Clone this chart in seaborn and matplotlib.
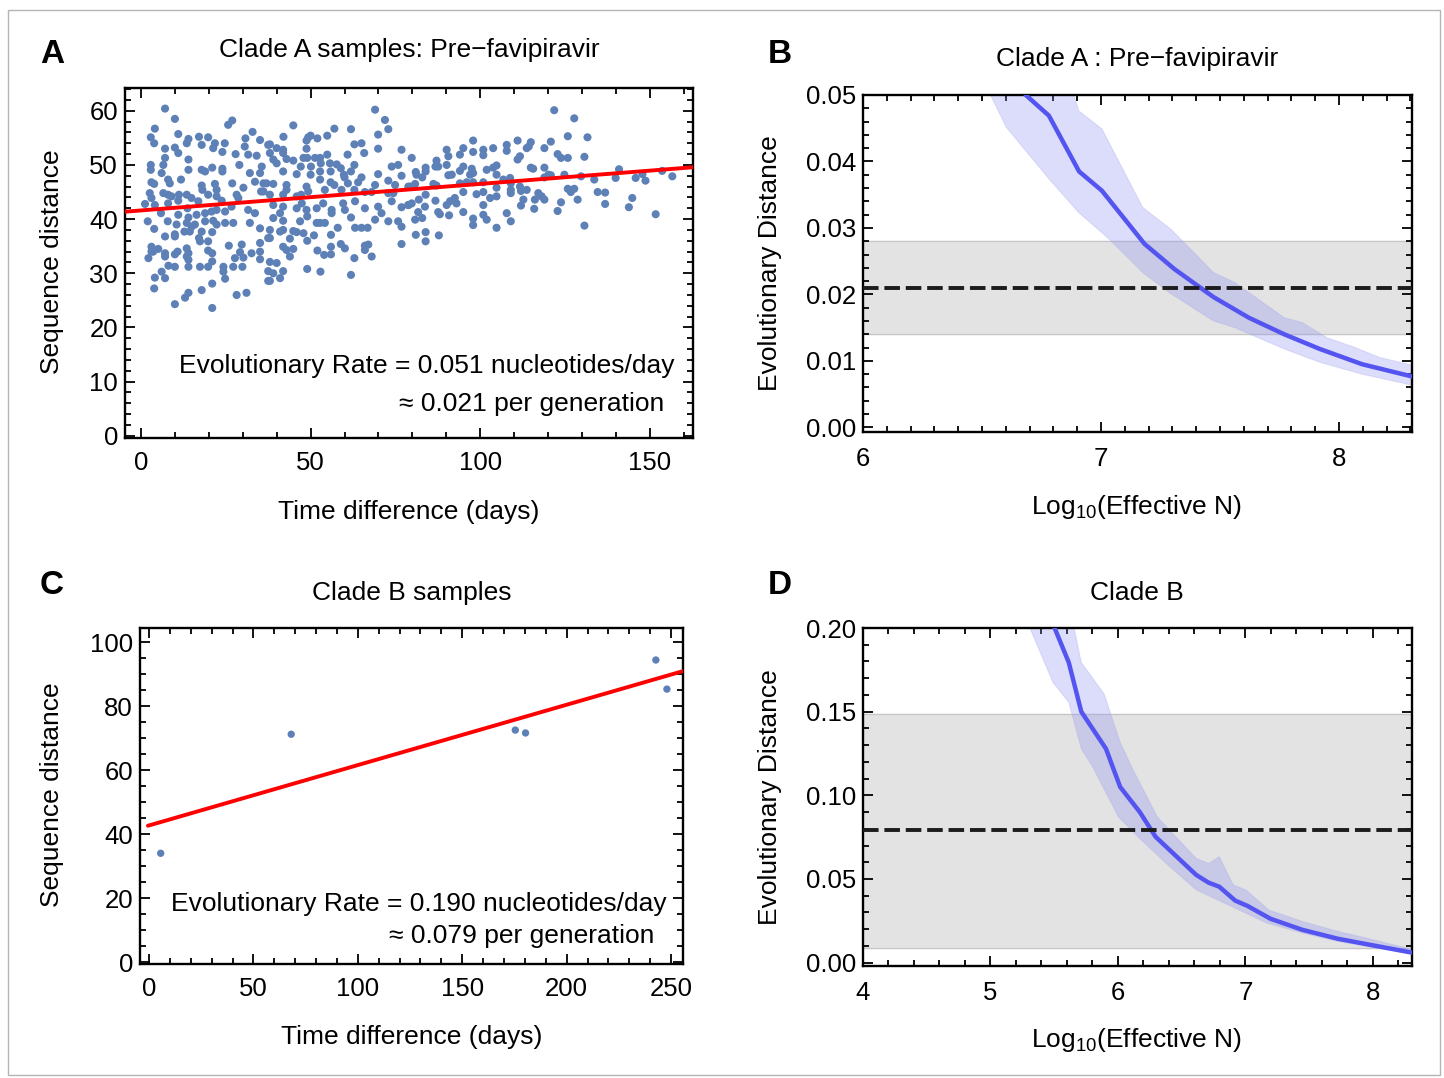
import numpy as np
import matplotlib
matplotlib.use("Agg")
import matplotlib.pyplot as plt
from matplotlib.patches import Rectangle
from matplotlib.ticker import MultipleLocator
import seaborn as sns

# ---- data ----
# panel A: clade A samples (time difference in days, sequence distance)
pts_a = [
    (7.1, 60.4), (10.0, 58.5), (4.1, 56.7), (11.0, 55.7), (2.9, 55.1), (3.9, 54.0), (7.1, 53.0), (10.0, 53.2),
    (11.0, 52.2), (14.0, 54.8), (13.5, 54.0), (17.1, 55.2), (17.9, 53.7), (19.8, 55.1), (21.8, 54.0), (21.3, 53.1),
    (24.7, 54.0), (24.0, 52.4), (25.7, 57.4), (26.9, 58.2), (27.9, 52.0), (30.8, 54.9), (30.6, 53.4), (32.9, 56.1),
    (31.6, 51.9), (35.1, 54.6), (34.1, 51.7), (37.5, 53.7), (7.1, 51.3), (6.6, 50.0), (6.1, 48.5), (2.9, 50.0),
    (2.9, 49.1), (14.0, 51.0), (14.0, 49.1), (17.9, 49.1), (18.9, 48.8), (21.0, 49.5), (24.0, 48.8), (24.0, 49.3),
    (29.0, 50.0), (32.1, 48.5), (35.6, 49.7), (35.1, 48.5), (8.0, 47.3), (11.8, 47.3), (3.1, 46.8), (3.9, 46.5),
    (8.5, 46.6), (17.9, 46.2), (18.1, 45.4), (21.8, 46.5), (22.3, 45.4), (26.9, 46.6), (30.2, 45.8), (28.2, 44.5),
    (33.6, 46.9), (36.1, 46.6), (35.4, 45.1), (2.6, 44.8), (3.1, 43.9), (6.6, 44.8), (8.0, 44.5), (9.0, 44.2),
    (11.2, 44.5), (13.5, 44.5), (14.9, 43.9), (16.9, 43.3), (19.8, 44.5), (22.3, 44.2), (23.8, 43.4), (28.7, 43.9),
    (36.1, 45.1), (1.2, 42.8), (4.1, 42.6), (8.0, 42.9), (11.0, 43.4), (5.9, 41.1), (13.7, 42.0), (18.9, 41.1),
    (20.8, 41.4), (22.3, 41.7), (24.8, 41.4), (26.7, 42.3), (31.6, 41.7), (33.6, 41.1), (11.0, 40.8), (14.0, 40.3),
    (16.4, 40.8), (2.0, 39.6), (7.9, 39.6), (10.5, 39.0), (13.5, 39.3), (14.9, 38.6), (15.9, 39.0), (18.9, 39.6),
    (21.3, 39.7), (22.3, 39.0), (24.8, 39.3), (27.2, 39.3), (32.1, 39.3), (35.1, 38.3), (3.9, 38.2), (10.0, 37.2),
    (10.0, 36.8), (12.8, 37.7), (14.4, 37.7), (17.9, 37.7), (21.0, 37.6), (7.1, 36.8), (17.1, 36.5), (19.8, 35.9),
    (17.4, 35.9), (37.5, 36.5), (3.1, 34.9), (3.6, 34.0), (5.1, 34.5), (3.1, 34.0), (7.1, 33.7), (7.1, 33.1),
    (10.8, 34.0), (10.0, 33.5), (13.5, 34.6), (14.0, 33.7), (13.5, 33.1), (19.8, 34.2), (21.0, 33.7), (25.9, 35.1),
    (29.7, 35.3), (29.2, 33.9), (27.7, 32.8), (30.2, 32.9), (32.6, 33.7), (35.1, 35.6), (35.1, 34.0), (35.1, 32.6),
    (2.2, 32.8), (14.0, 32.5), (14.0, 31.2), (17.4, 31.2), (21.0, 32.2), (19.8, 31.2), (24.3, 31.2), (24.3, 30.3),
    (27.2, 31.2), (29.9, 31.2), (8.1, 31.4), (10.0, 31.2), (6.1, 30.3), (37.5, 30.4), (4.1, 29.2), (7.1, 29.1),
    (24.8, 29.0), (37.5, 28.6), (21.0, 28.1), (3.9, 27.2), (17.9, 26.9), (28.2, 26.0), (31.1, 26.4), (14.0, 26.4),
    (13.0, 25.5), (10.0, 24.3), (21.0, 23.6),
    (69.0, 60.2), (71.9, 58.3), (72.9, 56.6), (44.9, 57.3), (57.0, 56.7), (61.9, 56.6), (42.0, 55.2), (48.8, 54.5),
    (49.3, 55.1), (50.0, 55.4), (52.0, 54.9), (54.9, 55.4), (69.9, 55.6), (38.0, 53.8), (38.0, 52.2), (40.0, 53.1),
    (41.9, 52.8), (41.9, 52.2), (42.9, 51.1), (48.8, 53.0), (49.0, 51.3), (51.3, 51.3), (52.8, 51.3), (54.9, 51.9),
    (60.9, 51.9), (62.9, 53.8), (65.0, 54.0), (65.8, 52.2), (69.9, 53.0), (76.8, 52.8), (39.0, 51.0), (40.0, 50.3),
    (44.9, 50.8), (47.1, 49.7), (50.1, 49.7), (47.9, 51.3), (53.0, 50.3), (55.7, 50.3), (57.7, 50.1), (58.9, 49.4),
    (62.9, 50.0), (73.9, 49.7), (75.8, 50.0), (41.9, 48.8), (45.9, 48.3), (50.0, 48.2), (52.8, 48.8), (55.9, 48.8),
    (59.8, 48.2), (61.9, 48.8), (69.9, 48.3), (76.8, 48.0), (37.0, 46.6), (39.0, 46.5), (42.9, 46.3), (48.8, 46.0),
    (52.8, 47.3), (55.9, 46.8), (57.0, 46.3), (60.0, 47.7), (61.0, 46.6), (64.0, 46.8), (65.0, 47.7), (69.0, 46.3),
    (72.9, 47.1), (74.9, 46.3), (38.0, 44.5), (42.9, 45.4), (45.9, 44.2), (47.2, 44.5), (49.3, 45.1), (54.2, 45.4),
    (59.1, 45.4), (62.9, 45.4), (66.0, 45.0), (68.0, 45.0), (72.9, 44.8), (74.4, 44.8), (78.8, 46.0), (39.0, 42.6),
    (41.9, 44.5), (41.0, 41.1), (41.9, 42.3), (45.9, 42.0), (47.4, 42.9), (48.8, 41.7), (51.8, 42.0), (53.7, 42.9),
    (56.2, 41.7), (59.6, 42.9), (60.1, 41.7), (63.1, 43.3), (66.0, 42.0), (69.9, 42.3), (73.9, 43.3), (76.8, 42.2),
    (78.8, 42.6), (39.0, 40.2), (41.9, 39.7), (46.9, 39.6), (49.0, 40.5), (51.8, 39.3), (52.8, 39.3), (54.2, 39.3),
    (56.2, 41.1), (58.0, 38.4), (61.9, 40.3), (63.1, 38.4), (65.0, 38.4), (66.8, 38.4), (69.0, 39.9), (70.9, 41.1),
    (72.9, 39.6), (75.8, 39.6), (76.8, 38.6), (38.0, 38.0), (38.0, 36.5), (41.0, 37.7), (41.9, 38.0), (43.9, 36.4),
    (44.9, 37.8), (45.9, 37.6), (47.9, 37.4), (49.0, 36.0), (51.0, 37.0), (56.0, 37.1), (56.0, 34.9), (58.9, 35.4),
    (60.1, 34.6), (66.0, 35.1), (67.0, 35.3), (66.0, 34.3), (76.8, 35.4), (41.9, 34.9), (42.9, 34.3), (44.9, 34.5),
    (43.9, 33.1), (52.0, 34.2), (54.0, 33.4), (56.0, 33.5), (62.9, 32.8), (68.0, 33.1), (38.0, 32.1), (40.0, 31.9),
    (39.0, 30.0), (41.9, 30.4), (41.0, 29.1), (38.0, 28.6), (49.0, 30.8), (52.9, 30.3), (61.9, 29.7),
    (97.9, 54.5), (111.0, 54.5), (114.9, 54.2), (114.3, 53.4), (90.1, 52.8), (95.0, 53.1), (90.6, 51.6), (94.0, 51.9),
    (97.9, 52.4), (100.9, 52.8), (100.9, 51.8), (103.8, 53.1), (107.8, 53.7), (107.8, 52.6), (111.7, 51.6), (111.0, 51.0),
    (113.7, 53.1), (118.9, 53.1), (79.8, 51.3), (87.1, 50.8), (86.8, 49.7), (87.6, 49.7), (90.1, 50.0), (83.9, 49.5),
    (81.0, 48.7), (83.9, 48.8), (94.0, 48.9), (95.0, 49.7), (97.5, 49.3), (97.9, 48.5), (97.0, 48.2), (101.9, 49.1),
    (103.8, 49.5), (104.8, 49.9), (104.8, 48.2), (114.9, 49.5), (115.6, 49.3), (118.9, 49.5), (81.2, 48.2), (82.9, 47.7),
    (90.6, 48.1), (91.6, 48.2), (79.3, 46.0), (80.8, 46.5), (86.2, 46.5), (87.1, 46.2), (94.0, 46.6), (96.0, 46.8),
    (97.9, 46.8), (100.9, 46.8), (104.8, 45.8), (106.8, 47.3), (108.8, 47.6), (109.0, 46.6), (111.7, 46.0), (113.7, 45.4),
    (118.9, 47.7), (120.1, 48.2), (78.8, 42.6), (79.8, 42.9), (81.9, 43.6), (83.9, 44.5), (86.8, 43.4), (90.1, 42.6),
    (91.1, 43.3), (92.5, 43.9), (93.0, 42.9), (95.0, 45.0), (98.9, 44.6), (100.9, 45.0), (102.9, 43.9), (104.8, 44.2),
    (109.0, 44.8), (109.0, 45.4), (112.0, 45.2), (112.7, 43.6), (116.1, 43.6), (117.1, 44.8), (118.1, 44.2), (118.9, 43.6),
    (81.7, 41.3), (83.7, 42.3), (87.6, 41.3), (88.1, 40.9), (95.0, 41.3), (100.9, 42.6), (100.9, 40.8), (101.9, 39.9),
    (80.8, 39.9), (82.9, 40.2), (90.8, 40.7), (97.9, 40.1), (97.9, 38.9), (107.8, 41.1), (109.0, 39.6), (112.0, 42.5),
    (115.9, 41.9), (104.8, 38.4), (81.0, 37.1), (83.9, 37.6), (83.9, 35.9), (87.8, 37.0),
    (121.8, 60.1), (127.7, 58.6), (120.8, 54.3), (125.8, 55.3), (131.6, 55.1), (122.8, 52.0), (123.8, 51.3), (125.8, 51.3),
    (130.7, 51.5), (120.8, 48.1), (124.8, 48.2), (129.7, 47.9), (133.6, 47.3), (139.9, 47.6), (140.9, 49.2), (145.8, 47.6),
    (147.8, 48.3), (148.7, 47.1), (153.6, 48.9), (156.6, 47.9), (125.8, 45.6), (126.7, 45.0), (127.7, 45.6), (128.7, 43.6),
    (134.6, 45.0), (136.8, 44.9), (136.8, 42.8), (123.8, 43.1), (122.8, 41.5), (144.8, 43.9), (143.8, 42.2), (151.7, 40.9),
    (130.7, 38.8),
]
days_a, dist_a = zip(*pts_a)
fit_a = (41.6, 0.049)  # intercept, slope of the red line

# panel C: clade B samples
days_c = [5.6, 68.1, 175.4, 180.3, 242.7, 248.0]
dist_c = [34.0, 71.2, 72.5, 71.6, 94.4, 85.3]
fit_c = (42.7, 0.1886)

# panel B: clade A, evolutionary distance vs log10(effective N)
logn_b = [6.684, 6.781, 6.908, 7.004, 7.183, 7.309, 7.473, 7.621, 7.770, 7.919, 8.097, 8.313]
dist_b = [0.0500, 0.0469, 0.0385, 0.0356, 0.0276, 0.0238, 0.0196, 0.0165, 0.0140, 0.0118, 0.0095, 0.0076]
band_b_up_x = [6.885, 6.907, 7.004, 7.175, 7.294, 7.473, 7.562, 7.770, 7.844, 7.949, 8.068, 8.172, 8.313]
band_b_up_y = [0.0500, 0.0476, 0.0449, 0.0331, 0.0298, 0.0233, 0.0218, 0.0165, 0.0158, 0.0135, 0.0120, 0.0105, 0.0093]
band_b_lo_x = [6.536, 6.603, 6.788, 6.907, 7.026, 7.175, 7.294, 7.473, 7.562, 7.770, 7.919, 8.097, 8.313]
band_b_lo_y = [0.0500, 0.0451, 0.0371, 0.0323, 0.0286, 0.0233, 0.0201, 0.0160, 0.0150, 0.0118, 0.0098, 0.0080, 0.0063]
obs_b = (0.0141, 0.0210, 0.0281)  # low, estimate, high

# panel D: clade B
logn_d = [5.503, 5.614, 5.712, 5.906, 6.017, 6.170, 6.295, 6.475, 6.614, 6.711, 6.794, 6.919, 7.016, 7.197,
          7.447, 7.724, 8.002, 8.321]
dist_d = [0.2000, 0.1794, 0.1500, 0.1278, 0.1050, 0.0901, 0.0752, 0.0623, 0.0524, 0.0478, 0.0454, 0.0371, 0.0339,
          0.0262, 0.0196, 0.0143, 0.0103, 0.0058]
band_d_up_x = [5.656, 5.712, 5.892, 6.017, 6.114, 6.309, 6.392, 6.614, 6.711, 6.794, 6.905, 7.003, 7.183, 7.447,
               7.724, 8.002, 8.321]
band_d_up_y = [0.2000, 0.1794, 0.1605, 0.1317, 0.1159, 0.0871, 0.0802, 0.0623, 0.0593, 0.0633, 0.0464, 0.0435,
               0.0315, 0.0246, 0.0187, 0.0137, 0.0077]
band_d_lo_x = [5.309, 5.490, 5.614, 5.712, 5.795, 6.003, 6.170, 6.392, 6.614, 6.892, 7.169, 7.447, 7.724, 8.002, 8.321]
band_d_lo_y = [0.2000, 0.1675, 0.1556, 0.1278, 0.1179, 0.0871, 0.0742, 0.0583, 0.0435, 0.0335, 0.0236, 0.0177,
               0.0127, 0.0091, 0.0048]
obs_d = (0.0085, 0.0790, 0.1486)

# ---- style ----
sns.set_theme(style="ticks")
plt.rcParams["font.family"] = ["Liberation Sans", "DejaVu Sans"]
plt.rcParams["mathtext.default"] = "regular"
plt.rcParams["text.color"] = "black"
plt.rcParams["xtick.color"] = "black"
plt.rcParams["ytick.color"] = "black"
FS = 19
TFS = 18.5
DOT = "#5d80b6"
CURVE = "#5454f0"
W, H = 1444, 1078

fig = plt.figure(figsize=(14.44, 10.78), dpi=100)
fig.patches.append(Rectangle((8 / W, 3 / H), 1432 / W, 1065 / H, transform=fig.transFigure,
                             fill=False, edgecolor="#b5b5b5", lw=1))


def ftext(x, y, s, **kw):
    # text placed by pixel position of its centre in the figure
    fig.text(x / W, 1 - y / H, s, ha=kw.pop("ha", "center"), va=kw.pop("va", "center"), **kw)


def frame(ax, xmaj, xmin, ymaj, ymin, xpad=9, ypad=5):
    for s in ax.spines.values():
        s.set_linewidth(1.7)
        s.set_color("black")
    ax.xaxis.set_major_locator(MultipleLocator(xmaj))
    ax.xaxis.set_minor_locator(MultipleLocator(xmin))
    ax.yaxis.set_major_locator(MultipleLocator(ymaj))
    ax.yaxis.set_minor_locator(MultipleLocator(ymin))
    ax.tick_params(which="both", direction="in", top=True, right=True, labelsize=TFS, width=1.3,
                   colors="black")
    ax.tick_params(which="major", length=7)
    ax.tick_params(which="minor", length=4)
    ax.tick_params(axis="x", pad=xpad)
    ax.tick_params(axis="y", pad=ypad)


def ax_at(l, t, r, b):
    return fig.add_axes([l / W, 1 - b / H, (r - l) / W, (b - t) / H])


# ---- A ----
axA = ax_at(125, 88, 693, 438)
sns.scatterplot(x=list(days_a), y=list(dist_a), ax=axA, color=DOT, s=34, edgecolor="none", zorder=2)
xa = np.array([-4.7, 162.7])
axA.plot(xa, fit_a[0] + fit_a[1] * xa, color="red", lw=2.8, zorder=3)
axA.set_xlim(-4.7, 162.7)
axA.set_ylim(-0.4, 64.2)
frame(axA, 50, 10, 10, 2)
axA.text(0.968, 0.206, "Evolutionary Rate = 0.051 nucleotides/day", transform=axA.transAxes,
         ha="right", va="center", fontsize=FS)
axA.text(0.949, 0.097, "\u2248 0.021 per generation", transform=axA.transAxes,
         ha="right", va="center", fontsize=FS)
ftext(409, 50, "Clade A samples: Pre\u2212favipiravir", fontsize=FS)
ftext(409, 512, "Time difference (days)", fontsize=FS)
ftext(52, 262, "Sequence distance", fontsize=FS, rotation=90)

# ---- C ----
axC = ax_at(140, 628, 683, 964)
sns.scatterplot(x=days_c, y=dist_c, ax=axC, color=DOT, s=28, edgecolor="none", zorder=2)
xc = np.array([-0.5, 255.7])
axC.plot(xc, fit_c[0] + fit_c[1] * xc, color="red", lw=2.8, zorder=3)
axC.set_xlim(-4.3, 255.7)
axC.set_ylim(-0.6, 104.4)
frame(axC, 50, 10, 20, 5)
axC.text(0.9705, 0.1786, "Evolutionary Rate = 0.190 nucleotides/day", transform=axC.transAxes,
         ha="right", va="center", fontsize=FS)
axC.text(0.948, 0.083, "\u2248 0.079 per generation", transform=axC.transAxes,
         ha="right", va="center", fontsize=FS)
ftext(412, 593, "Clade B samples", fontsize=FS)
ftext(412, 1037, "Time difference (days)", fontsize=FS)
ftext(52, 795, "Sequence distance", fontsize=FS, rotation=90)


# ---- B & D ----
def dist_panel(ax, lx, ly, ux, uy, lox, loy, obs, xlim, ylim, xmaj, xmin, ymaj, ymin):
    ax.axhspan(obs[0], obs[2], color="#e3e3e3", zorder=0)
    ax.axhline(obs[0], color="#c6c6c6", lw=0.9, zorder=0.5)
    ax.axhline(obs[2], color="#c6c6c6", lw=0.9, zorder=0.5)
    px = list(ux) + list(lox)[::-1]
    py = list(uy) + list(loy)[::-1]
    ax.fill(px, py, color="#8c8cf2", alpha=0.3, lw=0.8, edgecolor="#a8a8f0", zorder=1)
    sns.lineplot(x=lx, y=ly, ax=ax, color=CURVE, lw=3.2, sort=False, estimator=None, zorder=3)
    ax.axhline(obs[1], color="#1c1c1c", lw=2.8, dashes=(4, 1.5), zorder=4)
    ax.set_xlim(*xlim)
    ax.set_ylim(*ylim)
    frame(ax, xmaj, xmin, ymaj, ymin, xpad=11, ypad=5)
    ax.yaxis.set_major_formatter(plt.FormatStrFormatter("%.2f"))
    ax.xaxis.set_major_formatter(plt.FormatStrFormatter("%d"))


axB = ax_at(863, 95, 1412, 432)
dist_panel(axB, logn_b, dist_b, band_b_up_x, band_b_up_y, band_b_lo_x, band_b_lo_y, obs_b,
           (6, 8.307), (-0.0007, 0.05), 1, 0.1, 0.01, 0.002)
ftext(1137, 59, "Clade A : Pre\u2212favipiravir", fontsize=FS)
ftext(1137, 507, "Log$_{10}$(Effective N)", fontsize=FS)
ftext(770, 263, "Evolutionary Distance", fontsize=FS, rotation=90)

axD = ax_at(863, 628, 1412, 966)
dist_panel(axD, logn_d, dist_d, band_d_up_x, band_d_up_y, band_d_lo_x, band_d_lo_y, obs_d,
           (4, 8.306), (-0.002, 0.2), 1, 0.2, 0.05, 0.01)
ftext(1137, 593, "Clade B", fontsize=FS)
ftext(1137, 1040, "Log$_{10}$(Effective N)", fontsize=FS)
ftext(770, 797, "Evolutionary Distance", fontsize=FS, rotation=90)

# panel letters
for lab, x, y in [("A", 52, 55), ("B", 780, 55), ("C", 52, 585), ("D", 780, 585)]:
    ftext(x, y, lab, fontsize=24, fontweight="bold")

fig.savefig("out.png", dpi=100)
